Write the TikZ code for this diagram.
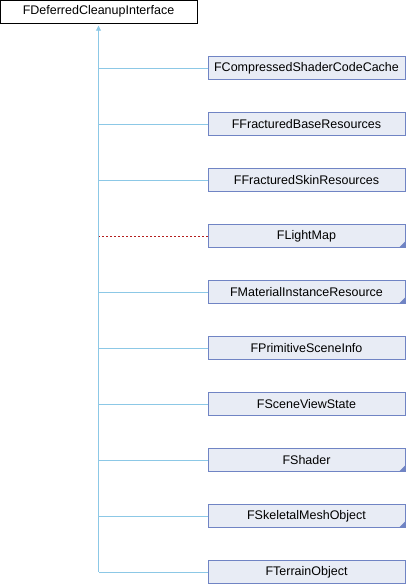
\documentclass[tikz,border=0pt]{standalone}
\usepackage{fontspec}
\setmainfont{Liberation Sans}
\usepackage{xcolor}
\usetikzlibrary{arrows.meta}

\definecolor{boxline}{RGB}{112,132,196}
\definecolor{boxfill}{RGB}{232,236,245}
\definecolor{edgeblue}{RGB}{140,200,230}
\definecolor{edgered}{RGB}{180,30,30}

\tikzset{
  basebox/.style={draw=black, fill=white, minimum width=197pt, minimum height=23pt,
    inner sep=0pt, font=\fontsize{12.5}{14}\selectfont},
  childbox/.style={draw=boxline, fill=boxfill, minimum width=197pt, minimum height=23pt,
    inner sep=0pt, font=\fontsize{12.5}{14}\selectfont},
  partial/.style={path picture={
    \fill[boxline] (path picture bounding box.south east) -- ++(-6pt,0) -- ++(6pt,6pt) -- cycle;}},
  edge/.style={draw=edgeblue, line width=0.9pt},
  usedge/.style={draw=edgered, line width=0.9pt, dash pattern=on 2pt off 2pt}
}

\begin{document}
\begin{tikzpicture}[x=1pt, y=-1pt]
  \useasboundingbox (0,0) rectangle (406,584);

  % Base class
  \node[basebox] (base) at (98.5,11.5) {FDeferredCleanupInterface};

  % Derived classes
  \node[childbox] (cache) at (306.5,68) {FCompressedShaderCodeCache};
  \node[childbox] (fbase) at (306.5,124) {FFracturedBaseResources};
  \node[childbox] (fskin) at (306.5,180) {FFracturedSkinResources};
  \node[childbox, partial] (lightmap) at (306.5,236) {FLightMap};
  \node[childbox, partial] (matinst) at (306.5,292) {FMaterialInstanceResource};
  \node[childbox] (primscene) at (306.5,348) {FPrimitiveSceneInfo};
  \node[childbox] (viewstate) at (306.5,404) {FSceneViewState};
  \node[childbox, partial] (shader) at (306.5,460) {FShader};
  \node[childbox, partial] (skelmesh) at (306.5,516) {FSkeletalMeshObject};
  \node[childbox] (terrain) at (306.5,572) {FTerrainObject};

  % Trunk with arrow
  \draw[edge, -{Triangle[width=5pt, length=5pt]}, shorten >=2.5pt] (base.south |- terrain.west) -- (base.south);

  % Branches
  \draw[edge] (cache.west) -- (base.south |- cache.west);
  \draw[edge] (fbase.west) -- (base.south |- fbase.west);
  \draw[edge] (fskin.west) -- (base.south |- fskin.west);
  \draw[usedge] (lightmap.west) -- (base.south |- lightmap.west);
  \draw[edge] (matinst.west) -- (base.south |- matinst.west);
  \draw[edge] (primscene.west) -- (base.south |- primscene.west);
  \draw[edge] (viewstate.west) -- (base.south |- viewstate.west);
  \draw[edge] (shader.west) -- (base.south |- shader.west);
  \draw[edge] (skelmesh.west) -- (base.south |- skelmesh.west);
  \draw[edge] (terrain.west) -- (base.south |- terrain.west);
\end{tikzpicture}
\end{document}
